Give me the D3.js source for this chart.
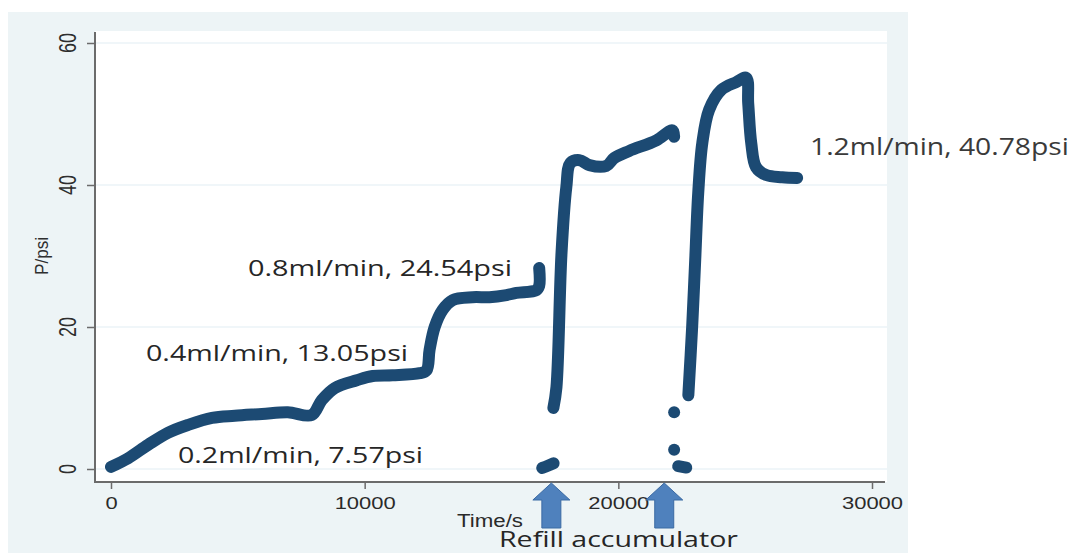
<!DOCTYPE html>
<html>
<head>
<meta charset="utf-8">
<script src="https://cdn.jsdelivr.net/npm/d3@7"></script>
<style>
  body { margin: 0; background: #fff; }
  svg { display: block; }
</style>
</head>
<body>
<div id="chart"></div>
<script>
// pressure trace, [time s, pressure psi]
const rampLow = [[0,0.3],[670,1.5],[1460,3.4],[2240,5.1],[3030,6.2],[3980,7.2],[4880,7.5],
  [5950,7.75],[6970,8.0],[7910,7.6],[8310,9.7],[8820,11.4],[9690,12.5],[10320,13.1],
  [11100,13.2],[12170,13.5],[12440,13.9],[12560,16.8],[12760,20.0],[13070,22.4],
  [13470,23.8],[14250,24.2],[14920,24.2],[15590,24.5],[15980,24.8],[16770,25.2],
  [16880,25.8],[16880,28.3]]
const refill1 = [[17000,0.15],[17220,0.45],[17450,0.8]]
const climb1 = [[17440,8.6],[17560,11.5],[17760,30.4],[17950,39.7],[18110,43.1],[18470,43.5],
  [18860,42.8],[19530,42.7],[19840,43.8],[20430,44.8],[21500,46.3],[22130,47.7],[22200,46.8]]
const refill2 = [[22360,0.4],[22680,0.2]]
const strayDots = [[22200,8.0],[22200,2.7]]
const climb2 = [[22760,10.4],[22910,20.0],[23030,29.4],[23150,38.9],[23310,45.9],[23580,50.6],
  [24060,53.4],[24650,54.5],[25040,55.1],[25120,51.5],[25240,45.9],[25430,42.5],
  [25830,41.4],[26460,41.1],[27050,41.0]]

const xTicks = [0, 10000, 20000, 30000]
const yTicks = [0, 20, 40, 60]

const noteText = ['0.8ml/min, 24.54psi', '0.4ml/min, 13.05psi', '0.2ml/min, 7.57psi', '1.2ml/min, 40.78psi']
const refillTimes = [17360, 21810]

// layout
const W = 1075, H = 553
const x = d3.scaleLinear().domain([0, 30000]).range([111, 872])
const y = d3.scaleLinear().domain([0, 60]).range([469, 43])
const plot = { left: 95, right: 887, top: 31, bottom: 482 }
const ink = '#1c4a73'
const stretch = 1.3   // the source picture is squashed wider than tall

const svg = d3.select('#chart').append('svg')
  .attr('width', W).attr('height', H)

svg.append('rect')
  .attr('x', 8).attr('y', 12).attr('width', 900).attr('height', H - 12)
  .attr('fill', '#edf4f6')
svg.append('rect')
  .attr('x', plot.left).attr('y', plot.top)
  .attr('width', plot.right - plot.left).attr('height', plot.bottom - plot.top)
  .attr('fill', '#fff')

// gridlines
svg.append('g').selectAll('line')
  .data(yTicks)
  .enter().append('line')
    .attr('x1', plot.left + 1).attr('x2', plot.right)
    .attr('y1', d => y(d)).attr('y2', d => y(d))
    .attr('stroke', '#e2eef3').attr('stroke-width', 1.2)

// axes
let yAxis = svg.append('g')
  .attr('transform', `translate(${plot.left},0)`)
  .call(d3.axisLeft(y).tickValues(yTicks).tickSize(8).tickSizeOuter(0))
yAxis.select('.domain').remove()
yAxis.selectAll('.tick text').remove()
yAxis.selectAll('.tick line').attr('stroke', '#6b6b6b').attr('stroke-width', 1.5)

svg.append('g').selectAll('text')
  .data(yTicks)
  .enter().append('text')
    .attr('transform', d => `translate(76,${y(d)}) scale(${stretch},1) rotate(-90)`)
    .attr('text-anchor', 'middle')
    .attr('font-family', 'Liberation Sans, Arial, sans-serif')
    .attr('font-size', 18)
    .attr('fill', '#2e2e2e')
    .attr('textLength', d => String(d).length * 10)
    .attr('lengthAdjust', 'spacingAndGlyphs')
    .text(d => d)

let xAxis = svg.append('g')
  .attr('transform', `translate(0,${plot.bottom})`)
  .call(d3.axisBottom(x).tickValues(xTicks).tickFormat(d3.format('d')).tickSize(7).tickSizeOuter(0))
xAxis.select('.domain').remove()
xAxis.selectAll('.tick line').attr('stroke', '#6b6b6b').attr('stroke-width', 1.5)
xAxis.selectAll('.tick text')
  .attr('y', 15)
  .attr('font-family', 'Liberation Sans, Arial, sans-serif')
  .attr('font-size', 17)
  .attr('fill', '#2a2a2a')
  .attr('textLength', d => String(d).length * 12.2)
  .attr('lengthAdjust', 'spacingAndGlyphs')

svg.append('line')
  .attr('x1', plot.left).attr('x2', plot.left)
  .attr('y1', plot.top + 1).attr('y2', plot.bottom + 1)
  .attr('stroke', '#6b6b6b').attr('stroke-width', 2)
svg.append('line')
  .attr('x1', plot.left).attr('x2', 885)
  .attr('y1', plot.bottom).attr('y2', plot.bottom)
  .attr('stroke', '#6b6b6b').attr('stroke-width', 2)

// axis titles
svg.append('text')
  .attr('transform', `translate(48,256) scale(${stretch},1) rotate(-90)`)
  .attr('text-anchor', 'middle')
  .attr('font-family', 'Liberation Sans, Arial, sans-serif')
  .attr('font-size', 14)
  .attr('fill', '#2e2e2e')
  .attr('textLength', 38).attr('lengthAdjust', 'spacingAndGlyphs')
  .text('P/psi')

svg.append('text')
  .attr('x', 457).attr('y', 527)
  .attr('font-family', 'Liberation Sans, Arial, sans-serif')
  .attr('font-size', 18)
  .attr('fill', '#2a2a2a')
  .attr('textLength', 66).attr('lengthAdjust', 'spacingAndGlyphs')
  .text('Time/s')

// the trace: thick stroked runs plus a couple of lone samples
let line = d3.line()
  .x(d => x(d[0]))
  .y(d => y(d[1]))
  .curve(d3.curveCatmullRom.alpha(0.5))

svg.append('g').selectAll('path')
  .data([rampLow, refill1, climb1, refill2, climb2])
  .enter().append('path')
    .attr('d', line)
    .attr('fill', 'none')
    .attr('stroke', ink)
    .attr('stroke-width', 12)
    .attr('stroke-linecap', 'round')
    .attr('stroke-linejoin', 'round')

svg.append('g').selectAll('circle')
  .data(strayDots)
  .enter().append('circle')
    .attr('cx', d => x(d[0]))
    .attr('cy', d => y(d[1]))
    .attr('r', 6)
    .attr('fill', ink)

// flow-rate notes: start x, baseline y, width, size
const notePos = [[248, 276, 264, 22], [146, 361, 262, 22], [178, 463, 245, 22], [810, 155, 259, 23]]
svg.append('g').selectAll('text')
  .data(noteText)
  .enter().append('text')
    .attr('x', (d, i) => notePos[i][0])
    .attr('y', (d, i) => notePos[i][1])
    .attr('textLength', (d, i) => notePos[i][2])
    .attr('lengthAdjust', 'spacingAndGlyphs')
    .attr('font-size', (d, i) => notePos[i][3])
    .attr('font-family', 'Open Sans, Noto Sans, sans-serif')
    .attr('fill', (d, i) => i === 3 ? '#3a3a3a' : '#262626')
    .text(d => d)

// refill arrows under the axis
let arrow = d3.path()
arrow.moveTo(0, 0)
arrow.lineTo(18.5, 17)
arrow.lineTo(9.5, 17)
arrow.lineTo(9.5, 45)
arrow.lineTo(-9.5, 45)
arrow.lineTo(-9.5, 17)
arrow.lineTo(-18.5, 17)
arrow.closePath()

svg.append('g').selectAll('path')
  .data(refillTimes)
  .enter().append('path')
    .attr('transform', d => `translate(${x(d)},${plot.bottom + 1})`)
    .attr('d', arrow.toString())
    .attr('fill', '#4f81bd')
    .attr('stroke', '#3b6aa3')
    .attr('stroke-width', 1)

svg.append('text')
  .attr('x', 499).attr('y', 547)
  .attr('font-family', 'Open Sans, Noto Sans, sans-serif')
  .attr('font-size', 22)
  .attr('fill', '#262626')
  .attr('textLength', 239).attr('lengthAdjust', 'spacingAndGlyphs')
  .text('Refill accumulator')
</script>
</body>
</html>
